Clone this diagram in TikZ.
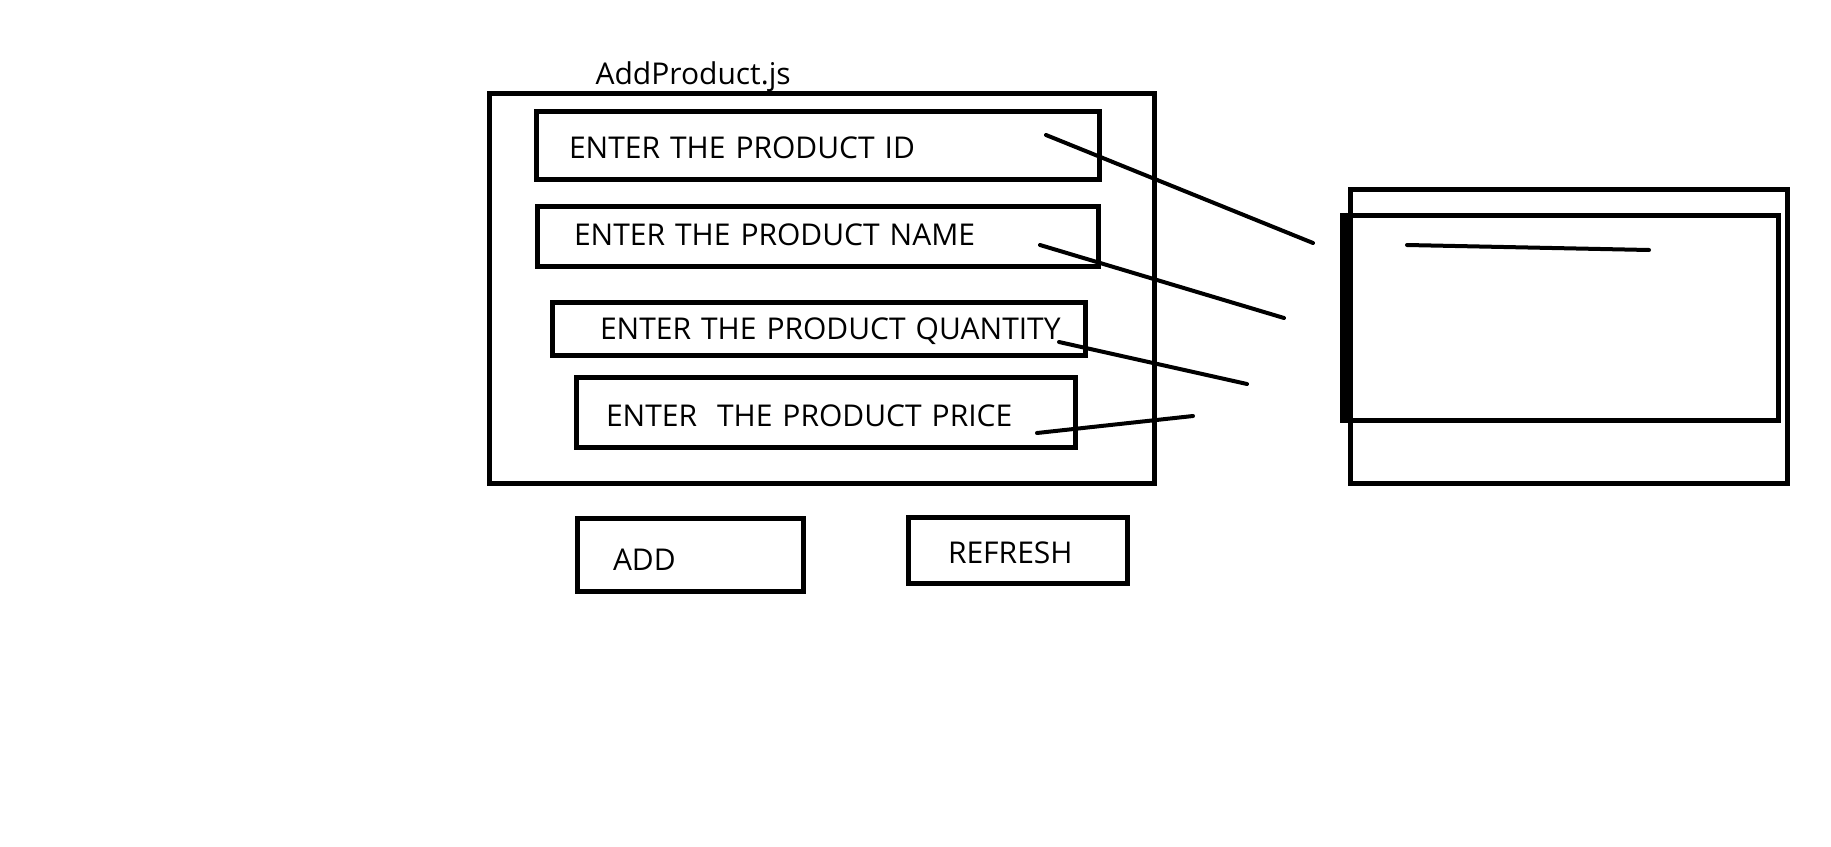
\documentclass[tikz,border=0pt]{standalone}
\usepackage{fontspec}
\setmainfont{Open Sans}
\begin{document}
\begin{tikzpicture}[x=1pt,y=-1pt,
  box/.style={draw,line width=5pt,rectangle,inner sep=0pt},
  field/.style={box,align=left,font=\fontsize{30}{32}\selectfont,text height=21.4pt,text depth=0pt},
  conn/.style={line width=4pt,line cap=round}]
\useasboundingbox (0,0) rectangle (1831,846);
\node[font=\fontsize{30}{32}\selectfont,anchor=west] (title) at (592,76.5) {AddProduct.js};
\node[box,minimum width=665pt,minimum height=390pt] (outer) at (821.5,288) {};
% fields
\node[field,minimum width=563pt,minimum height=68pt,text width=497pt,inner xsep=33pt] (fid) at (817.5,145) {\raisebox{-2.3pt}{ENTER THE PRODUCT ID}};
\node[field,minimum width=561pt,minimum height=60pt,text width=487pt,inner xsep=37pt] (fname) at (817.5,236) {\raisebox{1pt}{ENTER THE PRODUCT NAME}};
\node[field,minimum width=533pt,minimum height=53pt,text width=485pt,inner xsep=24pt] (fqty) at (818.5,328.5) {\hspace*{24pt}ENTER THE PRODUCT QUANTITY};
\node[field,minimum width=499pt,minimum height=70pt,text width=439pt,inner xsep=30pt] (fprice) at (825.5,412) {\raisebox{-3.5pt}{ENTER\ \ THE PRODUCT PRICE}};
% buttons
\node[field,minimum width=226pt,minimum height=73pt,text width=190pt,inner xsep=18pt] (add) at (690,554.5) {\hspace*{18pt}\raisebox{-5pt}{ADD}};
\node[field,minimum width=219pt,minimum height=66pt,text width=179pt,inner xsep=20pt] (refresh) at (1017.5,550) {\hspace*{20pt}\raisebox{-2.5pt}{REFRESH}};
% right side
\node[box,minimum width=437pt,minimum height=294pt] (rout) at (1568.5,336) {};
\node[box,minimum width=433pt,minimum height=205pt] (rin) at (1561.5,317.5) {};
\draw[line width=7pt] ([xshift=1pt]rin.north west) -- ([xshift=1pt]rin.south west);
\coordinate (l1) at (1407,245);
\coordinate (l2) at (1649,250);
\draw[conn] (l1) -- (l2);
% connectors
\coordinate (a1) at (1046,135); \coordinate (b1) at (1313,243);
\coordinate (a2) at (1040,245); \coordinate (b2) at (1284,318);
\coordinate (a3) at (1059,342); \coordinate (b3) at (1247,384);
\coordinate (a4) at (1037,433); \coordinate (b4) at (1193,416);
\draw[conn] (a1) -- (b1);
\draw[conn] (a2) -- (b2);
\draw[conn] (a3) -- (b3);
\draw[conn] (a4) -- (b4);
\end{tikzpicture}
\end{document}
